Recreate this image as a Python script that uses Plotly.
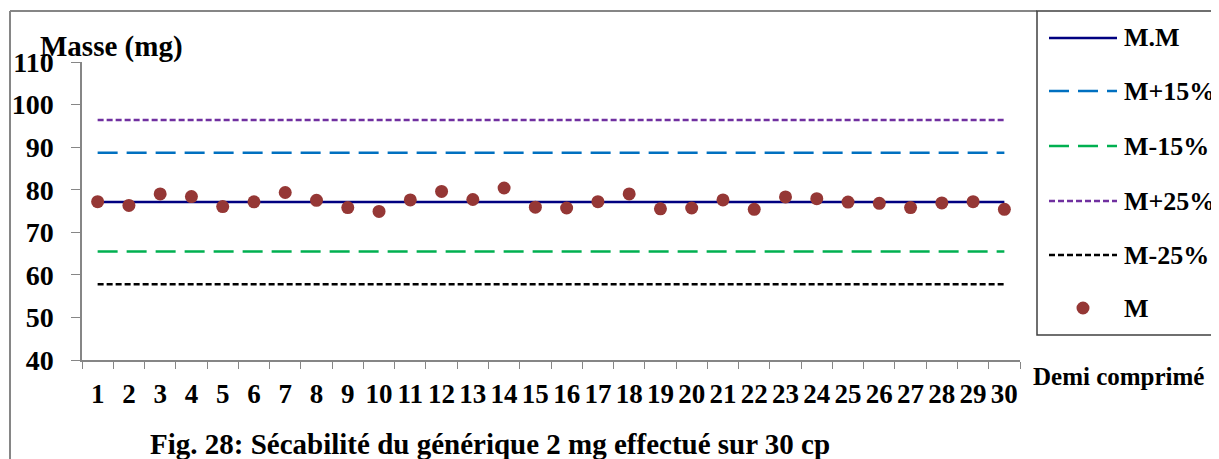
import plotly.graph_objects as go

# Demi comprimé n° 1..30 et masses lues (mg)
demi_cp = [str(i) for i in range(1, 31)]
masse = [77.2, 76.3, 79.0, 78.4, 76.05, 77.15, 79.35, 77.5, 75.8, 74.9,
         77.6, 79.6, 77.7, 80.4, 75.9, 75.7, 77.2, 79.0, 75.5, 75.7,
         77.6, 75.4, 78.3, 77.9, 77.1, 76.8, 75.8, 76.9, 77.2, 75.4]

# lignes de référence
m_moy = 77.1
m_plus15 = 88.7
m_moins15 = 65.5
m_plus25 = 96.4
m_moins25 = 57.8

y_ticks = [40, 50, 60, 70, 80, 90, 100, 110]

FONT = "Liberation Serif"
OFF = 8  # marge par défaut de la page html
W, H = 1219 - OFF, 459 - OFF
L, R, T, B = 82, 1020, 62, 360  # zone de tracé (pixels de la fenêtre)


def px(x):
    return (x - L) / (R - L)


def py(y):
    return (B - y) / (B - T)


ref_lines = [
    ("M.M", m_moy, "#000080", "solid", 2.5),
    ("M+15%", m_plus15, "#0070C0", "20px,9px", 2.5),
    ("M-15%", m_moins15, "#00B050", "20px,9px", 2.5),
    ("M+25%", m_plus25, "#7030A0", "6px,3px", 2.5),
    ("M-25%", m_moins25, "#000000", "6px,3px", 2.5),
]

fig = go.Figure()
for name, val, col, dash, w in ref_lines:
    fig.add_trace(go.Scatter(x=[demi_cp[0], demi_cp[-1]], y=[val, val], mode="lines",
                             line=dict(color=col, dash=dash, width=w), name=name,
                             showlegend=False))
fig.add_trace(go.Scatter(x=demi_cp, y=masse, mode="markers", name="M",
                         marker=dict(color="#953735", size=13), showlegend=False))

shapes = []
annotations = []
lab_font = dict(family=FONT, size=26, color="black", weight="bold")

# cadre du graphique
shapes.append(dict(type="line", xref="paper", yref="paper", x0=px(10), x1=px(10),
                   y0=py(11), y1=py(470), line=dict(color="#868686", width=2)))
shapes.append(dict(type="line", xref="paper", yref="paper", x0=px(10), x1=px(1037),
                   y0=py(11), y1=py(11), line=dict(color="#868686", width=2)))
# boîte de légende
shapes.append(dict(type="rect", xref="paper", yref="paper", x0=px(1037), x1=px(1230),
                   y0=py(335), y1=py(11), line=dict(color="#404040", width=1.5)))

leg_rows = [38, 91, 146, 201, 255, 308]
for (name, val, col, dash, w), yy in zip(ref_lines, leg_rows):
    shapes.append(dict(type="line", xref="paper", yref="paper", x0=px(1049), x1=px(1117),
                       y0=py(yy), y1=py(yy), line=dict(color=col, dash=dash, width=w)))
    annotations.append(dict(text=name, xref="paper", yref="paper", x=px(1122), y=py(yy),
                            xanchor="left", yanchor="middle", showarrow=False,
                            font=lab_font))
shapes.append(dict(type="circle", xref="paper", yref="paper", xsizemode="pixel",
                   ysizemode="pixel", xanchor=px(1083), yanchor=py(leg_rows[5]),
                   x0=-6.5, x1=6.5, y0=-6.5, y1=6.5,
                   fillcolor="#953735", line=dict(width=0)))
annotations.append(dict(text="M", xref="paper", yref="paper", x=px(1122), y=py(leg_rows[5]),
                        xanchor="left", yanchor="middle", showarrow=False, font=lab_font))

# titres
annotations.append(dict(text="Masse (mg)", xref="paper", yref="paper", x=px(111), y=py(46),
                        xanchor="center", yanchor="middle", showarrow=False,
                        font=dict(family=FONT, size=29, color="black", weight="bold")))
annotations.append(dict(text="Demi comprimé", xref="paper", yref="paper", x=px(1031), y=py(376),
                        xanchor="left", yanchor="middle", showarrow=False,
                        font=dict(family=FONT, size=25, color="black", weight="bold")))
annotations.append(dict(text="Fig. 28: Sécabilité du générique 2 mg effectué sur 30 cp",
                        xref="paper", yref="paper", x=px(490), y=py(444),
                        xanchor="center", yanchor="middle", showarrow=False,
                        font=dict(family=FONT, size=29, color="black", weight="bold")))

fig.update_layout(
    width=W, height=H,
    margin=dict(l=L - OFF, r=W - (R - OFF), t=T - OFF, b=H - (B - OFF), pad=0),
    paper_bgcolor="white", plot_bgcolor="white",
    shapes=shapes, annotations=annotations,
    font=dict(family=FONT, color="black"),
    xaxis=dict(type="category", categoryorder="array", categoryarray=demi_cp,
               tickmode="array", tickvals=demi_cp, range=[-0.5, 29.5],
               tickson="boundaries", ticks="outside", ticklen=7, automargin=False,
               tickcolor="#868686", showline=True, linecolor="#868686", linewidth=1.5,
               showgrid=False, zeroline=False, tickangle=0, ticklabelstandoff=9,
               tickfont=dict(family=FONT, size=27, color="black", weight="bold")),
    yaxis=dict(range=[40, 110], tickvals=y_ticks, ticks="outside", ticklen=9,
               tickcolor="#868686", showline=True, linecolor="#868686", linewidth=1.5,
               showgrid=False, zeroline=False, ticklabelstandoff=12, automargin=False,
               tickfont=dict(family=FONT, size=28, color="black", weight="bold")),
)

fig.write_html("out.html", config={"displayModeBar": False})
